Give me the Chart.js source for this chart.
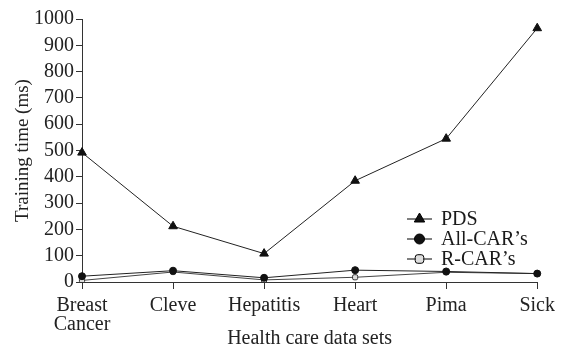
<!DOCTYPE html>
<html>
<head>
<meta charset="utf-8">
<script src="https://cdn.jsdelivr.net/npm/chart.js@4"></script>
<style>
  html, body { margin: 0; padding: 0; background: #fff; }
  #wrap { width: 562px; height: 351px; }
</style>
</head>
<body>
<div id="wrap"><canvas id="mc" width="562" height="351"></canvas></div>
<script>
const categories = [['Breast', 'Cancer'], 'Cleve', 'Hepatitis', 'Heart', 'Pima', 'Sick'];
const pds = [492, 212, 108, 385, 545, 965];
const allCars = [22, 43, 16, 45, 40, 32];
const rCars = [6, 38, 8, 18, 37, 32];
const yTicks = [0, 100, 200, 300, 400, 500, 600, 700, 800, 900, 1000];

const serif = '"Liberation Serif", "Times New Roman", serif';
const ctx = document.getElementById('mc');

// legend drawn inside the plot, lower right
const insideLegend = {
    id: 'insideLegend',
    afterDraw(chart) {
        const g = chart.ctx;
        const x0 = 407, x1 = 432, tx = 441;
        const rows = [219, 239, 259];
        g.save();
        g.font = '20px ' + serif;
        g.textBaseline = 'middle';
        chart.data.datasets.forEach((ds, i) => {
            const y = rows[i];
            g.strokeStyle = '#000';
            g.lineWidth = 1;
            g.beginPath();
            g.moveTo(x0, y);
            g.lineTo(x1, y);
            g.stroke();
            g.fillStyle = ds.pointBackgroundColor;
            g.strokeStyle = '#000';
            g.lineWidth = 1;
            Chart.helpers.drawPoint(g, {
                pointStyle: ds.pointStyle,
                radius: ds.legendRadius,
                rotation: 0,
                borderWidth: 1
            }, (x0 + x1) / 2, y);
            g.fillStyle = '#1a1a1a';
            g.fillText(ds.label, tx, y + 1);
        });
        g.restore();
    }
};

new Chart(ctx, {
    type: 'line',
    data: {
        labels: categories,
        datasets: [{
            label: 'PDS',
            data: pds,
            borderColor: '#222',
            borderWidth: 1,
            pointStyle: 'triangle',
            pointRadius: 5,
            legendRadius: 6,
            pointBackgroundColor: '#111',
            pointBorderColor: '#111',
            tension: 0
        }, {
            label: 'All-CAR\u2019s',
            data: allCars,
            borderColor: '#222',
            borderWidth: 1,
            pointStyle: 'circle',
            pointRadius: 3.5,
            legendRadius: 5,
            pointBackgroundColor: '#111',
            pointBorderColor: '#111',
            tension: 0
        }, {
            label: 'R-CAR\u2019s',
            data: rCars,
            borderColor: '#444',
            borderWidth: 1,
            pointStyle: 'rectRounded',
            pointRadius: 3,
            legendRadius: 5,
            pointBackgroundColor: '#ddd',
            pointBorderColor: '#333',
            tension: 0
        }]
    },
    options: {
        responsive: false,
        animation: false,
        layout: { padding: { top: 19, right: 22, bottom: 0, left: 0 } },
        plugins: {
            legend: { display: false },
            tooltip: { enabled: false }
        },
        scales: {
            x: {
                offset: false,
                grid: { drawOnChartArea: false, tickLength: 7, color: '#333' },
                border: { color: '#333', width: 1 },
                ticks: {
                    color: '#222',
                    font: { family: serif, size: 20, lineHeight: 0.95 },
                    maxRotation: 0,
                    autoSkip: false,
                    padding: 7
                },
                title: {
                    display: true,
                    text: 'Health care data sets',
                    color: '#222',
                    font: { family: serif, size: 20 },
                    padding: { top: 0, bottom: 0 }
                },
                afterFit(scale) { scale.height = 351 - 282; }
            },
            y: {
                min: 0,
                max: 1000,
                afterBuildTicks(scale) { scale.ticks = yTicks.map(v => ({ value: v })); },
                grid: { drawOnChartArea: false, tickLength: 6, color: '#333' },
                border: { color: '#333', width: 1 },
                ticks: {
                    color: '#222',
                    font: { family: serif, size: 20, lineHeight: 1 },
                    padding: 2,
                    autoSkip: false,
                    callback: v => String(v)
                },
                title: {
                    display: true,
                    text: 'Training time (ms)',
                    color: '#222',
                    font: { family: serif, size: 19 },
                    padding: { top: 12, bottom: 0 }
                },
                afterFit(scale) { scale.width = 82; }
            }
        }
    },
    plugins: [insideLegend]
});
</script>
</body>
</html>
